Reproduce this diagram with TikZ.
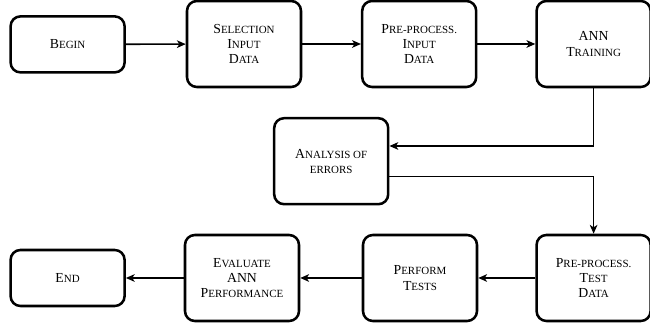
\documentclass[tikz,border=0pt]{standalone}
\usepackage{fontspec}
\setmainfont{Liberation Serif}
\usetikzlibrary{arrows.meta,positioning,calc}
\newcommand{\fsc}[2]{{\fontsize{9.8}{10.8}\selectfont #1}{\fontsize{7.8}{10.8}\selectfont #2}}

\begin{document}
\begin{tikzpicture}[
  every node/.style={font=\fontsize{7.8}{10.8}\selectfont},
  blk/.style={draw=black,line width=1.8pt,rounded corners=7pt,align=center,minimum width=2.85cm,minimum height=2.15cm},
  term/.style={blk,minimum height=1.4cm},
  ar/.style={-{Stealth[length=2.2mm,width=1.9mm,inset=0.6mm]},line width=1.1pt}]
\useasboundingbox (0,0) rectangle (16.25,8.15);
\node[term] (begin) at (1.69,7.04) {\fsc{B}{EGIN}};
\node[blk] (sel) at (6.1,7.05) {\fsc{S}{ELECTION}\\\fsc{I}{NPUT}\\\fsc{D}{ATA}};
\node[blk] (prei) at (10.48,7.05) {\fsc{P}{RE-PROCESS.}\\\fsc{I}{NPUT}\\\fsc{D}{ATA}};
\node[blk] (ann) at (14.84,7.05) {\fsc{ANN}{}\\\fsc{T}{RAINING}};
\node[blk] (err) at (8.28,4.12) {\fsc{A}{NALYSIS OF}\\\fsc{}{ERRORS}};
\node[blk] (pret) at (14.84,1.2) {\fsc{P}{RE-PROCESS.}\\\fsc{T}{EST}\\\fsc{D}{ATA}};
\node[blk] (perf) at (10.5,1.2) {\fsc{P}{ERFORM}\\\fsc{T}{ESTS}};
\node[blk] (eval) at (6.05,1.2) {\fsc{E}{VALUATE}\\\fsc{ANN}{}\\\fsc{P}{ERFORMANCE}};
\node[term] (end) at (1.69,1.2) {\fsc{E}{ND}};
\draw[ar] (begin) -- (sel);
\draw[ar] (sel) -- (prei);
\draw[ar] (prei) -- (ann);
\draw[ar] (ann.south) |- ([yshift=0.38cm]err.east);
\draw[ar] ([yshift=-0.38cm]err.east) -| (pret.north);
\foreach \a/\b in {pret/perf,perf/eval,eval/end} \draw[ar] (\a) -- (\b);
\end{tikzpicture}
\end{document}
